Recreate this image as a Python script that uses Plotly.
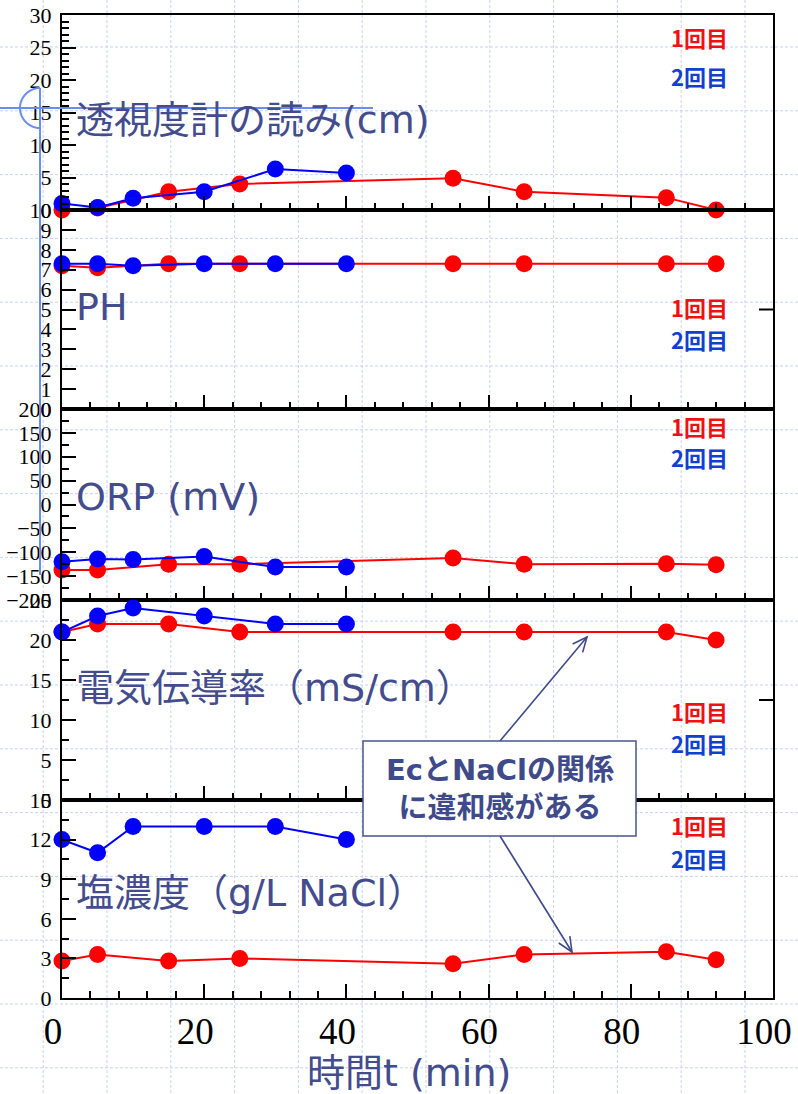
import numpy as np
import plotly.graph_objects as go

# Sampling times (min)
t_run1 = [0, 5, 15, 25, 55, 65, 85, 92]
t_run2 = [0, 5, 10, 20, 30, 40]

# 透視度計の読み (cm)
clarity_run1 = [0, 0.3, 2.8, 4.0, 4.9, 2.8, 1.9, 0]
clarity_run2 = [1.0, 0.4, 1.8, 2.8, 6.3, 5.7]
# PH
ph_run1 = [7.2, 7.1, 7.3, 7.3, 7.3, 7.3, 7.3, 7.3]
ph_run2 = [7.3, 7.3, 7.2, 7.3, 7.3, 7.3]
# ORP (mV)
orp_run1 = [-137, -137, -125, -125, -112, -125, -124, -126]
orp_run2 = [-120, -114, -115, -109, -131, -131]
# 電気伝導率 (mS/cm)
ec_run1 = [21, 22, 22, 21, 21, 21, 21, 20]
ec_run2 = [21, 23, 24, 23, 22, 22]
# 塩濃度 (g/L NaCl)
salt_run1 = [2.8, 3.3, 2.8, 3.0, 2.6, 3.3, 3.5, 2.9]
salt_run2 = [12, 11, 13, 13, 13, 12]

panel_titles = ["透視度計の読み(cm)", "PH", "ORP (mV)", "電気伝導率（mS/cm）", "塩濃度（g/L NaCl）"]
run_labels = ["1回目", "2回目"]
x_title = "時間t (min)"
note_text = "EcとNaClの関係<br>に違和感がある"

# Figure geometry (pixels)
FIG_W, FIG_H = 798, 1094
L, R, T, B = 62, 773, 15, 998
PW, PH_ = R - L, B - T


def px(x):
    return (x - L) / PW


def py(y):
    return (B - y) / PH_


RED = "#ff0000"
BLUE = "#0000ff"
TITLE_COLOR = "#434c8c"
AXIS_FONT = "Liberation Serif"
CJK_FONT = "Noto Sans CJK JP"
MIX_FONT = "DejaVu Sans, Noto Sans CJK JP"

# panel pixel bounds (top, bottom), y ranges, ticks
panels = [
    dict(top=15, bottom=210, rng=[0, 30], dtick=5, minor=1,
         y1=clarity_run1, y2=clarity_run2, title_y=120, leg=(37, 76), rtick=None),
    dict(top=210, bottom=409, rng=[0, 10], dtick=1, minor=None,
         y1=ph_run1, y2=ph_run2, title_y=307, leg=(307, 339), rtick=5),
    dict(top=409, bottom=600, rng=[-200, 200], dtick=50, minor=25,
         y1=orp_run1, y2=orp_run2, title_y=497, leg=(426, 457), rtick=None),
    dict(top=600, bottom=800, rng=[0, 25], dtick=5, minor=2.5,
         y1=ec_run1, y2=ec_run2, title_y=688, leg=(711, 743), rtick=12.5),
    dict(top=800, bottom=998, rng=[0, 15], dtick=3, minor=1.5,
         y1=salt_run1, y2=salt_run2, title_y=893, leg=(825, 858), rtick=None),
]

fig = go.Figure()
layout = {}
annotations = []
shapes = []

# slide background grid
for k in range(12):
    gx = 43.2 + 63.8 * k
    shapes.append(dict(type="line", xref="paper", yref="paper",
                       x0=px(gx), x1=px(gx), y0=py(0), y1=py(FIG_H),
                       line=dict(color="#c9d3f3", width=1, dash="3px,2px"), layer="below"))
for k in range(17):
    gy = 47 + 63.8 * k
    shapes.append(dict(type="line", xref="paper", yref="paper",
                       x0=px(0), x1=px(FIG_W), y0=py(gy), y1=py(gy),
                       line=dict(color="#c9d3f3", width=1, dash="3px,2px"), layer="below"))

for i, p in enumerate(panels):
    n = i + 1
    xa = "x" if n == 1 else f"x{n}"
    ya = "y" if n == 1 else f"y{n}"
    xkey = "xaxis" if n == 1 else f"xaxis{n}"
    ykey = "yaxis" if n == 1 else f"yaxis{n}"

    for xs, ys, col in ((t_run1, p["y1"], RED), (t_run2, p["y2"], BLUE)):
        fig.add_trace(go.Scatter(
            x=xs, y=ys, xaxis=xa, yaxis=ya, mode="lines+markers",
            line=dict(color=col, width=2), marker=dict(color=col, size=17),
            cliponaxis=False, showlegend=False, hoverinfo="skip"))

    last = n == len(panels)
    layout[xkey] = dict(
        domain=[0, 1], range=[0, 100], anchor=ya, matches=None if n == 1 else "x",
        showline=True, linecolor="black", linewidth=2, mirror=True,
        ticks="inside", ticklen=14, tickwidth=2, tickcolor="black", dtick=20, tick0=0,
        minor=dict(dtick=4, ticklen=7, tickwidth=1.5, ticks="inside", tickcolor="black"),
        showgrid=False, zeroline=False, showticklabels=last, automargin=False,
        tickfont=dict(family=AXIS_FONT, size=37, color="black"),
        ticklabelstandoff=0, ticklabelshift=-9, ticklabeloverflow="allow",
    )
    ymin = dict(dtick=p["minor"], ticklen=7, tickwidth=1.5, ticks="inside",
                tickcolor="black") if p["minor"] else None
    layout[ykey] = dict(
        domain=[py(p["bottom"]), py(p["top"])], range=p["rng"], anchor=xa,
        showline=True, linecolor="black", linewidth=2, mirror=True,
        ticks="inside", ticklen=14, tickwidth=2, tickcolor="black",
        dtick=p["dtick"], tick0=0, showgrid=False, zeroline=False, automargin=False,
        tickfont=dict(family=AXIS_FONT, size=22, color="black"),
        ticklabelstandoff=4, ticklabeloverflow="allow",
    )
    if ymin:
        layout[ykey]["minor"] = ymin

    if p["rtick"] is not None:
        shapes.append(dict(type="line", xref="paper", yref=ya,
                           x0=1, x1=px(R - 14), y0=p["rtick"], y1=p["rtick"],
                           line=dict(color="black", width=2)))

    annotations.append(dict(
        text=panel_titles[i], xref="paper", yref="paper", x=px(74), y=py(p["title_y"]),
        xanchor="left", yanchor="middle", showarrow=False,
        font=dict(family=MIX_FONT, size=38, color=TITLE_COLOR)))
    for lab, ly, col in zip(run_labels, p["leg"], ("#ee1111", "#1040d0")):
        annotations.append(dict(
            text=lab, xref="paper", yref="paper", x=px(699), y=py(ly),
            xanchor="center", yanchor="middle", showarrow=False,
            font=dict(family=CJK_FONT, size=22, color=col, weight="bold")))

# x-axis title
annotations.append(dict(
    text=x_title, xref="paper", yref="paper", x=px(409), y=py(1073),
    xanchor="center", yanchor="middle", showarrow=False,
    font=dict(family=MIX_FONT, size=38, color=TITLE_COLOR)))

# note box with arrows
NOTE_COLOR = "#3f4a8a"


def arrow_shapes(x0, y0, x1, y1, head=16, spread=0.42):
    ang = np.arctan2(y0 - y1, x0 - x1)
    pts = []
    for s in (spread, -spread):
        pts.append((x1 + head * np.cos(ang + s), y1 + head * np.sin(ang + s)))
    line = dict(type="line", xref="paper", yref="paper",
                x0=px(x0), y0=py(y0), x1=px(x1), y1=py(y1),
                line=dict(color=NOTE_COLOR, width=1.6))
    path = (f"M{px(pts[0][0])},{py(pts[0][1])} L{px(x1)},{py(y1)} "
            f"L{px(pts[1][0])},{py(pts[1][1])}")
    hd = dict(type="path", xref="paper", yref="paper", path=path,
              line=dict(color=NOTE_COLOR, width=1.6))
    return [line, hd]


shapes += arrow_shapes(500, 741, 587, 637)
shapes += arrow_shapes(500, 836, 572, 952)
shapes.append(dict(type="rect", xref="paper", yref="paper",
                   x0=px(363), x1=px(636), y0=py(836), y1=py(741),
                   line=dict(color="#4a5590", width=1.5), fillcolor="white"))
annotations.append(dict(
    text=note_text, xref="paper", yref="paper", x=px(500), y=py(789),
    xanchor="center", yanchor="middle", showarrow=False,
    font=dict(family=MIX_FONT, size=29, color=NOTE_COLOR, weight="bold")))

# selection crosshair
CROSS = "#6a8ef0"
shapes.append(dict(type="line", xref="paper", yref="paper",
                   x0=px(0), x1=px(373), y0=py(108), y1=py(108),
                   line=dict(color=CROSS, width=2)))
shapes.append(dict(type="line", xref="paper", yref="paper",
                   x0=px(40), x1=px(40), y0=py(88), y1=py(575),
                   line=dict(color=CROSS, width=2)))
theta = np.linspace(np.pi / 2, 3 * np.pi / 2, 30)
arc = " L".join(f"{px(40 + 20 * np.cos(a))},{py(108 - 20 * np.sin(a))}" for a in theta)
shapes.append(dict(type="path", xref="paper", yref="paper", path="M" + arc,
                   line=dict(color=CROSS, width=2)))

fig.update_layout(
    width=FIG_W, height=FIG_H, autosize=False,
    margin=dict(l=L, r=FIG_W - R, t=T, b=FIG_H - B, autoexpand=False),
    paper_bgcolor="white", plot_bgcolor="rgba(0,0,0,0)",
    showlegend=False, shapes=shapes, annotations=annotations,
    **layout,
)

fig.write_html("out.html")
